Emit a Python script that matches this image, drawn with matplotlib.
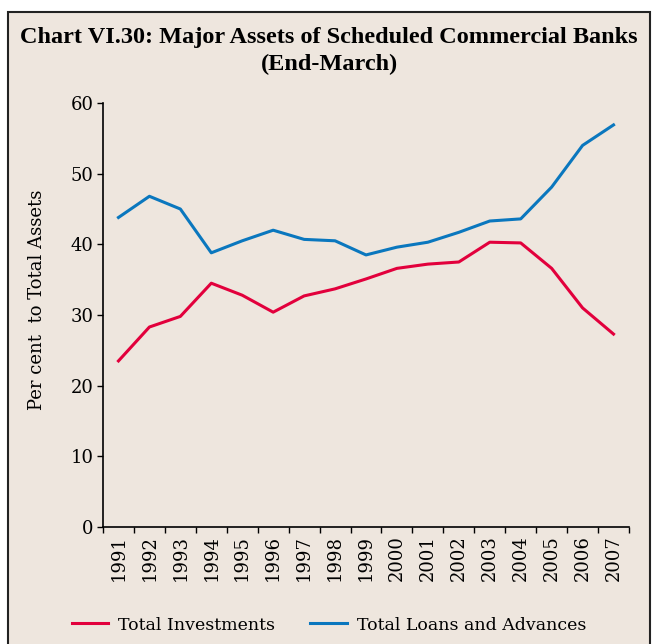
import matplotlib
matplotlib.use("Agg")
import matplotlib.pyplot as plt
from matplotlib.patches import Rectangle
from matplotlib.lines import Line2D

years = ['1991', '1992', '1993', '1994', '1995', '1996', '1997', '1998', '1999',
         '2000', '2001', '2002', '2003', '2004', '2005', '2006', '2007']
investments = [23.5, 28.3, 29.8, 34.5, 32.8, 30.4, 32.7, 33.7, 35.1,
               36.6, 37.2, 37.5, 40.3, 40.2, 36.6, 31.0, 27.3]
loans = [43.8, 46.8, 45.0, 38.8, 40.5, 42.0, 40.7, 40.5, 38.5,
         39.6, 40.3, 41.7, 43.3, 43.6, 48.1, 54.0, 56.9]

bg = '#EEE6DE'
red = '#E2003C'
blue = '#0A77BE'

W, H = 658, 644
fig = plt.figure(figsize=(W / 100, H / 100), dpi=100)
fig.patch.set_facecolor('white')

# framed panel behind everything
fig.patches.append(Rectangle((8 / W, -0.05), 642 / W, 1.05 - 12 / H,
                             transform=fig.transFigure, facecolor=bg,
                             edgecolor='#222222', linewidth=1.5, zorder=-10))

ax = fig.add_axes([103 / W, (H - 527) / H, (629 - 103) / W, (527 - 103) / H])
ax.patch.set_alpha(0)

x = list(range(len(years)))
ax.plot(x, investments, color=red, lw=2.2, label='Total Investments')
ax.plot(x, loans, color=blue, lw=2.2, label='Total Loans and Advances')

ax.set_xlim(-0.5, len(years) - 0.5)
ax.set_ylim(0, 60)
ax.set_yticks([0, 10, 20, 30, 40, 50, 60])
ax.set_xticks([i - 0.5 for i in range(len(years) + 1)])
ax.set_xticklabels([])
ax.set_xticks(x, minor=True)
ax.set_xticklabels(years, minor=True, rotation=90, fontsize=13, family='DejaVu Serif')
ax.tick_params(axis='x', which='minor', length=0, pad=6)
ax.tick_params(axis='x', which='major', length=4, direction='out', width=1)
ax.tick_params(axis='y', length=4, width=1, labelsize=13, pad=3)
for lab in ax.get_yticklabels():
    lab.set_family('DejaVu Serif')
for s in ['top', 'right']:
    ax.spines[s].set_visible(False)
for s in ['left', 'bottom']:
    ax.spines[s].set_linewidth(1.2)

fig.text(37 / W, 1 - 300 / H, 'Per cent  to Total Assets', rotation=90,
         ha='center', va='center', fontsize=13, family='DejaVu Serif')

fig.text(0.5, 1 - 37 / H, 'Chart VI.30: Major Assets of Scheduled Commercial Banks',
         ha='center', va='center', fontsize=17.5, fontweight='bold', family='Liberation Serif')
fig.text(0.5, 1 - 64 / H, '(End-March)',
         ha='center', va='center', fontsize=17.5, fontweight='bold', family='Liberation Serif')

handles = [Line2D([], [], color=red, lw=2.2), Line2D([], [], color=blue, lw=2.2)]
fig.legend(handles, ['Total Investments', 'Total Loans and Advances'],
           loc='center', bbox_to_anchor=(0.5, 1 - 625 / H), ncol=2, frameon=False,
           prop={'family': 'DejaVu Serif', 'size': 12.5}, handlelength=2.1,
           columnspacing=2.0, handletextpad=0.6)

fig.savefig('out.png', dpi=100, facecolor='white')
